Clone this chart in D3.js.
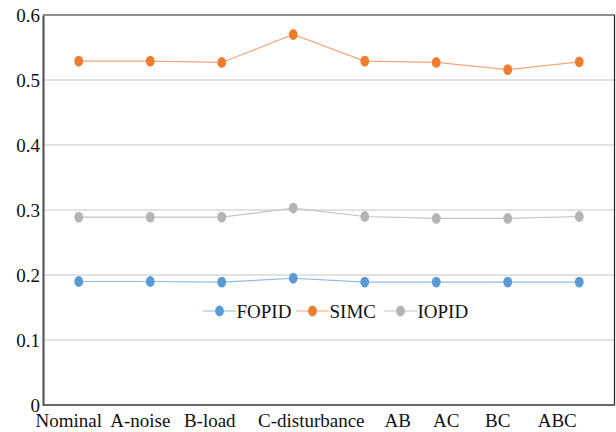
<!DOCTYPE html>
<html>
<head>
<meta charset="utf-8">
<script src="https://cdn.jsdelivr.net/npm/d3@7"></script>
<style>
  html, body { margin: 0; padding: 0; background: #fff; }
  svg { display: block; }
</style>
</head>
<body>
<svg id="chart" width="616" height="432"></svg>
<script>
// Test scenarios along the x axis
const categories = ["Nominal", "A-noise", "B-load", "C-disturbance", "AB", "AC", "BC", "ABC"];

// Performance index per controller
const fopid = [0.190, 0.190, 0.189, 0.195, 0.189, 0.189, 0.189, 0.189];
const simc  = [0.529, 0.529, 0.527, 0.570, 0.529, 0.527, 0.516, 0.528];
const iopid = [0.289, 0.289, 0.289, 0.303, 0.290, 0.287, 0.287, 0.290];

const yTicks = [0, 0.1, 0.2, 0.3, 0.4, 0.5, 0.6];
const yTickLabels = ["0", "0.1", "0.2", "0.3", "0.4", "0.5", "0.6"];

const series = [
  { name: "FOPID", values: fopid, color: "#5b9bd5", line: "#8dbbe3" },
  { name: "SIMC",  values: simc,  color: "#ed7d31", line: "#f2a77a" },
  { name: "IOPID", values: iopid, color: "#b4b4b4", line: "#c4c4c4" }
];

// Layout: horizontal nudge of each category label so the long names don't collide
const labelNudge = [-10, -10, -12, 18, 33, 10, -10, -22];

const svg = d3.select("#chart");
const margin = { left: 43, top: 15, right: 1, bottom: 27 };
const W = 616, H = 432;
const fontSize = "19px";
const serif = '"Liberation Serif", "Times New Roman", Tinos, serif';

function typeset(sel) {
  sel.style("font-family", serif).style("font-size", fontSize).style("fill", "#111");
}

const x = d3.scaleBand().domain(categories).range([margin.left, W - margin.right]);
const y = d3.scaleLinear().domain([0, 0.6]).range([H - margin.bottom, margin.top]);

// Horizontal gridlines
svg.append("g")
  .selectAll("line")
  .data(yTicks.filter(t => t > 0 && t < 0.6))
  .join("line")
  .attr("x1", margin.left).attr("x2", W - margin.right)
  .attr("y1", d => y(d)).attr("y2", d => y(d))
  .attr("stroke", "#d9d9d9").attr("stroke-width", 1.5);

// Plot frame
svg.append("line")
  .attr("x1", margin.left).attr("x2", W - margin.right)
  .attr("y1", y(0.6)).attr("y2", y(0.6))
  .attr("stroke", "#222").attr("stroke-width", 1.2);
svg.append("line")
  .attr("x1", W - margin.right - 0.5).attr("x2", W - margin.right - 0.5)
  .attr("y1", y(0.6)).attr("y2", y(0))
  .attr("stroke", "#222").attr("stroke-width", 1.2);
svg.append("line")
  .attr("x1", margin.left).attr("x2", W - margin.right)
  .attr("y1", y(0)).attr("y2", y(0))
  .attr("stroke", "#333").attr("stroke-width", 1.5);

// Y axis
const yAxis = svg.append("g")
  .attr("transform", `translate(${margin.left},0)`)
  .call(d3.axisLeft(y).tickValues(yTicks).tickSize(0).tickPadding(3)
    .tickFormat((d, i) => yTickLabels[i]));
yAxis.select(".domain").attr("stroke", "#595959").attr("stroke-width", 2.2);
yAxis.selectAll("text").call(typeset);

// X axis labels
const xAxis = svg.append("g")
  .attr("transform", `translate(0,${y(0)})`)
  .call(d3.axisBottom(x).tickSize(0).tickPadding(9));
xAxis.select(".domain").remove();
xAxis.selectAll("text")
  .call(typeset)
  .attr("dx", (d, i) => labelNudge[i]);

const cx = d => x(d) + x.bandwidth() / 2;

// Series lines and markers
const line = d3.line().x((d, i) => cx(categories[i])).y(d => y(d));
series.forEach(s => {
  svg.append("path")
    .datum(s.values)
    .attr("d", line)
    .attr("fill", "none")
    .attr("stroke", s.line)
    .attr("stroke-width", 1.2);
  svg.append("g")
    .selectAll("ellipse")
    .data(s.values)
    .join("ellipse")
    .attr("cx", (d, i) => cx(categories[i]))
    .attr("cy", d => y(d))
    .attr("rx", 4.4).attr("ry", 5.4)
    .attr("fill", s.color);
});

// Legend
const legendY = 311;
const legendX = [203, 296, 384];
const legend = svg.append("g");
series.forEach((s, i) => {
  const g = legend.append("g").attr("transform", `translate(${legendX[i]},${legendY})`);
  g.append("line").attr("x1", 0).attr("x2", 33).attr("y1", 0).attr("y2", 0)
    .attr("stroke", s.line).attr("stroke-width", 1.2);
  g.append("ellipse").attr("cx", 16.5).attr("cy", 0).attr("rx", 4.4).attr("ry", 5.4)
    .attr("fill", s.color);
  g.append("text").attr("x", 33.5).attr("y", 0).attr("dy", "0.35em")
    .call(typeset)
    .text(s.name);
});
</script>
</body>
</html>
